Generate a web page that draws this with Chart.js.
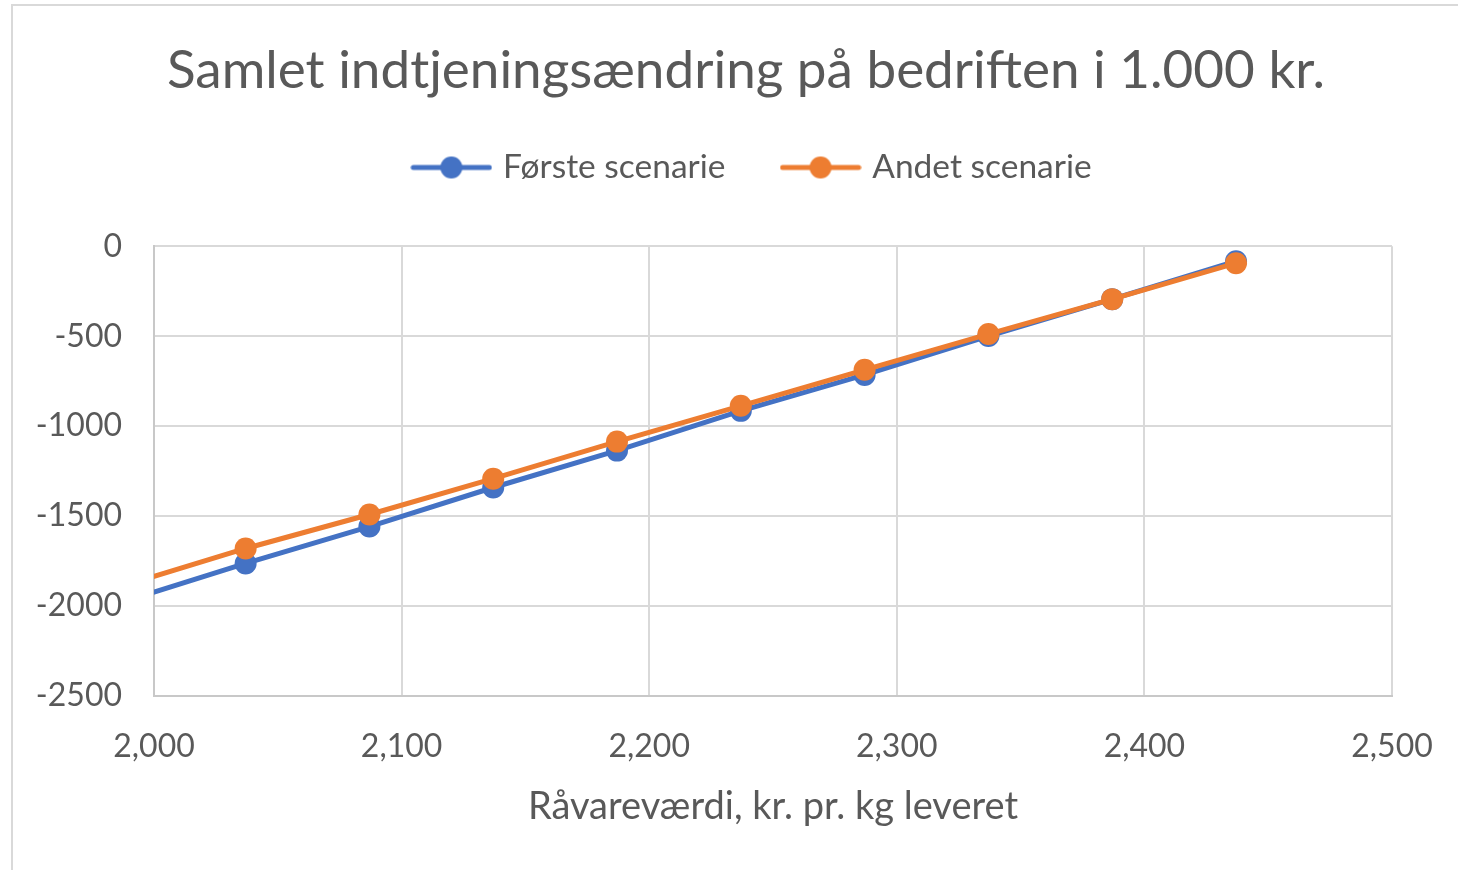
<!DOCTYPE html>
<html>
<head>
<meta charset="utf-8">
<script src="https://cdn.jsdelivr.net/npm/chart.js@4.4.1/dist/chart.umd.min.js"></script>
<style>
  html, body { margin: 0; padding: 0; background: #fff; overflow: hidden; width: 1458px; height: 870px; }
  #frame { position: absolute; left: 11px; top: 4px; width: 1500px; height: 900px;
           border-left: 2px solid #d9d9d9; border-top: 2px solid #d9d9d9; overflow: hidden; }
  #c { position: absolute; left: 0; top: 0; }
</style>
</head>
<body>
<div id="frame"><canvas id="c" width="1466" height="864"></canvas></div>
<script>
const titleText = 'Samlet indtjeningsændring på bedriften i 1.000 kr.';
const xAxisTitle = 'Råvareværdi, kr. pr. kg leveret';
const seriesNames = ['Første scenarie', 'Andet scenarie'];
const xValues = [1987, 2037, 2087, 2137, 2187, 2237, 2287, 2337, 2387, 2437];
const firstScenario = [-1979, -1763, -1558, -1341, -1136, -915, -715, -499, -294, -83];
const secondScenario = [-1889, -1680, -1491, -1292, -1086, -887, -687, -488, -294, -94];
const xTicksRange = [2000, 2500, 100];
const yTicksRange = [-2500, 0, 500];

const BLUE = '#4472C4', ORANGE = '#ED7D31', TEXT = '#595959', GRID = '#d9d9d9';
const FONT = 'Lato';

function legendIcon(color) {
  const c = document.createElement('canvas');
  c.width = 82; c.height = 24;
  const g = c.getContext('2d');
  g.strokeStyle = color; g.lineWidth = 5; g.lineCap = 'round';
  g.beginPath(); g.moveTo(3, 12); g.lineTo(79, 12); g.stroke();
  g.fillStyle = color; g.beginPath(); g.arc(41, 12, 11, 0, Math.PI * 2); g.fill();
  return c;
}

const toPoints = ys => xValues.map((x, i) => ({ x, y: ys[i] }));

const shiftLegend = {
  id: 'shiftLegend',
  afterLayout(chart) {
    if (chart.legend) { chart.legend.left += 8; chart.legend.right += 8; }
  }
};

new Chart(document.getElementById('c'), {
  type: 'line',
  data: {
    datasets: [
      { label: seriesNames[0], data: toPoints(firstScenario), borderColor: BLUE, backgroundColor: BLUE,
        borderWidth: 5, pointRadius: 11, pointHoverRadius: 11, pointBorderWidth: 0, tension: 0,
        pointStyle: 'circle', order: 1 },
      { label: seriesNames[1], data: toPoints(secondScenario), borderColor: ORANGE, backgroundColor: ORANGE,
        borderWidth: 5, pointRadius: 11, pointHoverRadius: 11, pointBorderWidth: 0, tension: 0,
        pointStyle: 'circle', order: 0 }
    ]
  },
  plugins: [shiftLegend],
  options: {
    responsive: false,
    animation: false,
    devicePixelRatio: 1,
    layout: { padding: 0 },
    plugins: {
      tooltip: { enabled: false },
      title: {
        display: true, text: titleText, color: TEXT,
        font: { family: FONT, size: 53, weight: 'normal', lineHeight: 0.75 },
        padding: { top: 45, bottom: 0 }
      },
      legend: {
        display: true, position: 'top',
        labels: {
          color: TEXT, font: { family: FONT, size: 33.5 }, padding: 60,
          usePointStyle: true, pointStyleWidth: 70,
          generateLabels: chart => chart.data.datasets.map((ds, i) => ({
            text: ds.label, fontColor: TEXT, pointStyle: legendIcon(ds.borderColor),
            datasetIndex: i, hidden: false, lineWidth: 0
          }))
        }
      },
      subtitle: {
        display: true, text: '', position: 'top', weight: 500,
        font: { size: 10, lineHeight: 1 }, padding: { top: 42, bottom: 0 }
      }
    },
    scales: {
      x: {
        type: 'linear', min: xTicksRange[0], max: xTicksRange[1],
        ticks: { stepSize: xTicksRange[2], color: TEXT, font: { family: FONT, size: 32 }, padding: 31,
                 callback: v => v.toLocaleString('en-US'), maxRotation: 0 },
        grid: { color: GRID, lineWidth: 2, drawTicks: false },
        border: { color: '#c8c8c8', width: 2 },
        title: { display: true, text: xAxisTitle, color: TEXT, font: { family: FONT, size: 38, lineHeight: 1.2 },
                 padding: { top: 0, bottom: 40 } },
        afterFit: s => { s.height = 174; }
      },
      y: {
        type: 'linear', min: yTicksRange[0], max: yTicksRange[1],
        ticks: { stepSize: yTicksRange[2], color: TEXT, font: { family: FONT, size: 32 }, padding: 32,
                 callback: v => String(v) },
        grid: { color: GRID, lineWidth: 2, drawTicks: false },
        border: { color: '#c8c8c8', width: 2 },
        afterFit: s => { s.width = 141; }
      },
      spacer: {
        type: 'linear', position: 'right', display: true,
        ticks: { display: false }, grid: { display: false }, border: { display: false },
        afterFit: s => { s.width = 87; }
      }
    }
  }
});
</script>
</body>
</html>
